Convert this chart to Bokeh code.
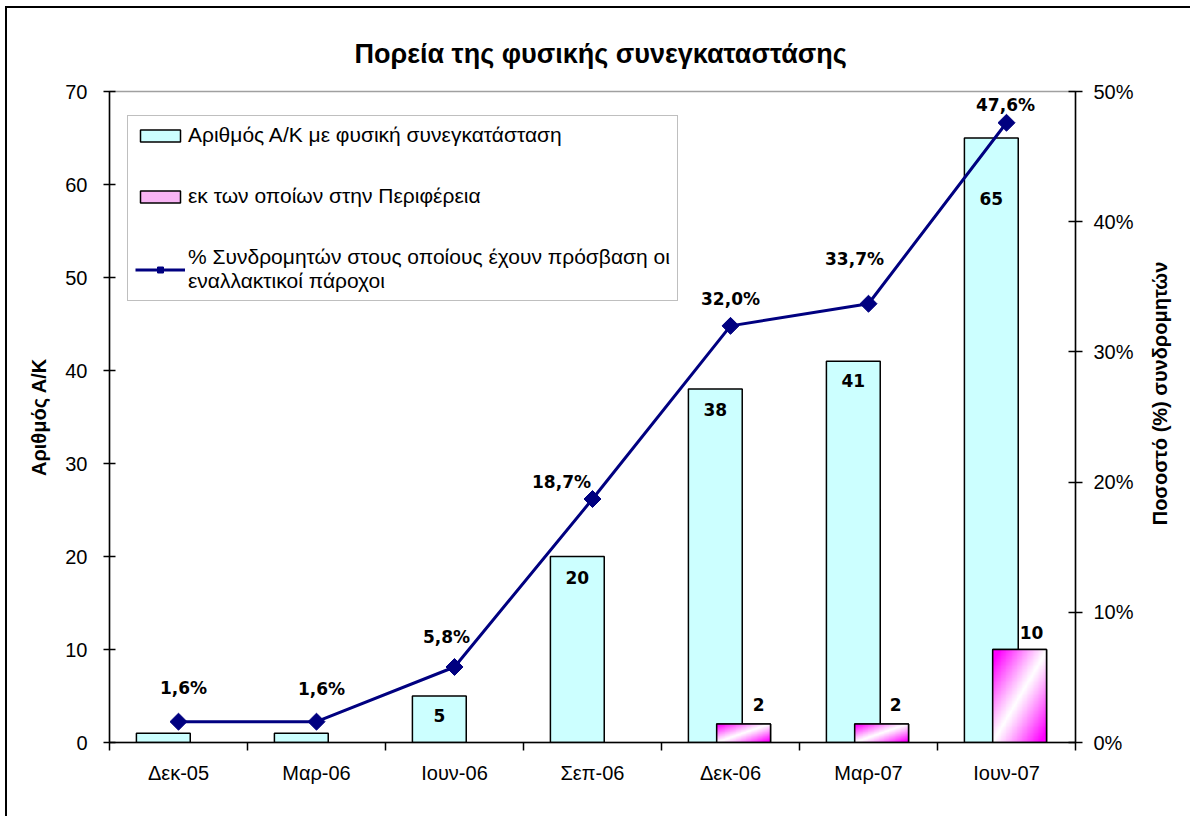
import numpy as np
from bokeh.plotting import figure
from bokeh.models import (Range1d, LinearAxis, FixedTicker, PrintfTickFormatter,
                          Legend, LegendItem, ColumnDataSource, Label)
from bokeh.core.properties import value
from bokeh.embed import file_html
from bokeh.resources import INLINE

# ---------------- data ----------------
categories = ["Δεκ-05", "Μαρ-06", "Ιουν-06", "Σεπ-06", "Δεκ-06", "Μαρ-07", "Ιουν-07"]
total_sites = [1, 1, 5, 20, 38, 41, 65]
regional_sites = [0, 0, 0, 0, 2, 2, 10]
pct_subscribers = [1.6, 1.6, 5.8, 18.7, 32.0, 33.7, 47.6]
left_ticks = [0, 10, 20, 30, 40, 50, 60, 70]
right_ticks = [0, 10, 20, 30, 40, 50]
series_names = ["Αριθμός Α/Κ με φυσική συνεγκατάσταση",
                "εκ των οποίων στην Περιφέρεια",
                "% Συνδρομητών στους οποίους έχουν πρόσβαση οι\nεναλλακτικοί πάροχοι"]
title_text = "Πορεία της φυσικής συνεγκαταστάσης"
y_label_left = "Αριθμός Α/Κ"
y_label_right = "Ποσοστό (%) συνδρομητών"

# label placement (pixel offsets, styling only)
bar_label_dy = [None, None, 19, 21, 20, 19, 60]
pink_label_dx = [None, None, None, None, 15, 14, 12]
pink_label_dy = [None, None, None, None, -19, -19, -17]
pct_label_dx = [5, 5, -8, -31, 0, -14, -1]
pct_label_dy = [-34, -33, -30, -17, -27, -45, -18]

# ---------------- styles ----------------
CYAN = "#ccffff"
NAVY = "#000080"
PINK_LEG = "#f8b4f4"
CYAN_OFF, PINK_OFF, BAR_W = -0.11, 0.095, 0.39
SANS = "Liberation Sans"
BOLD_LBL = "DejaVu Sans"

idx = list(range(len(categories)))

W, H = 1185, 810
p = figure(width=W, height=H, output_backend="svg", toolbar_location=None,
           x_range=Range1d(-0.5, len(categories) - 0.5), y_range=Range1d(0, 70),
           x_axis_type=None, y_axis_type=None,
           min_border_left=102, min_border_right=117, min_border_top=83, min_border_bottom=76)
p.margin = (8, 0, 0, 7)
p.extra_y_ranges = {"pct": Range1d(0, 50)}
p.outline_line_color = "#a0a0a0"
p.outline_line_width = 1.5
p.background_fill_color = "white"
p.border_fill_color = "white"
p.styles = {"box-shadow": "-2px -2px 0 0 #000000"}

p.title.text = title_text
p.title.text_font = SANS
p.title.text_font_size = "27px"
p.title.text_font_style = "bold"
p.title.text_color = "black"
p.title.align = "left"
p.title.offset = 245
p.title.standoff = 45

def style_axis(ax):
    ax.axis_line_color = "black"
    ax.axis_line_width = 1.5
    ax.major_tick_line_color = "black"
    ax.major_tick_line_width = 1.5
    ax.minor_tick_line_color = "black"
    ax.minor_tick_line_width = 1.5
    ax.major_label_text_font = SANS
    ax.major_label_text_font_size = "20px"
    ax.major_label_text_color = "black"
    ax.axis_label_text_font = SANS
    ax.axis_label_text_font_size = "20px"
    ax.axis_label_text_font_style = "bold"
    ax.axis_label_text_color = "black"

yl = LinearAxis(ticker=FixedTicker(ticks=left_ticks, minor_ticks=[]), axis_label=y_label_left)
style_axis(yl)
yl.major_tick_in = 6
yl.major_tick_out = 6
yl.major_label_standoff = 16
yl.axis_label_standoff = 12
p.add_layout(yl, "left")

yr = LinearAxis(y_range_name="pct", ticker=FixedTicker(ticks=right_ticks, minor_ticks=[]),
                formatter=PrintfTickFormatter(format="%d%%"))
style_axis(yr)
yr.major_tick_in = 7
yr.major_tick_out = 7
yr.major_label_standoff = 11
p.add_layout(yr, "right")

# right-hand axis title, reading bottom-to-top, in the right side panel
p.add_layout(Label(x=23, y=349, x_units="screen", y_units="screen", text=y_label_right,
                   angle=np.pi / 2, text_align="center", text_baseline="middle",
                   text_font=SANS, text_font_size="20px", text_font_style="bold",
                   text_color="black"), "right")

xa = LinearAxis(ticker=FixedTicker(ticks=idx, minor_ticks=[i - 0.5 for i in range(len(categories) + 1)]),
                major_label_overrides={i: c for i, c in enumerate(categories)})
style_axis(xa)
xa.major_tick_line_color = None
xa.major_tick_in = 0
xa.major_tick_out = 0
xa.minor_tick_in = 0
xa.minor_tick_out = 8
xa.major_label_standoff = 11
p.add_layout(xa, "below")

# ---------------- bars ----------------
cyan_x = [i + CYAN_OFF for i in idx]
r_cyan = p.vbar(x=cyan_x, top=total_sites, width=BAR_W, fill_color=CYAN,
                line_color="black", line_width=1.5)

# pink bars: filled bar (legend), gradient image over it, outline on top
n = 64
u = np.linspace(0, 1, n)[None, :]
v = np.linspace(0, 1, n)[:, None]
a = np.clip(np.abs(v - u) ** 1.1 * 1.15, 0, 1)
grad = np.empty((n, n), dtype=np.uint32)
view = grad.view(dtype=np.uint8).reshape((n, n, 4))
view[:, :, 0] = 255
view[:, :, 1] = (255 * (1 - a)).astype(np.uint8)
view[:, :, 2] = 255
view[:, :, 3] = 255

pink_idx = [i for i in idx if regional_sites[i] > 0]
pink_x = [i + PINK_OFF for i in pink_idx]
pink_vals = [regional_sites[i] for i in pink_idx]
r_pink = p.vbar(x=pink_x, top=pink_vals, width=BAR_W, fill_color=PINK_LEG,
                line_color="black", line_width=1.5)
p.image_rgba(image=[grad] * len(pink_idx), x=[c - BAR_W / 2 for c in pink_x],
             y=[0] * len(pink_idx), dw=[BAR_W] * len(pink_idx), dh=pink_vals)
p.vbar(x=pink_x, top=pink_vals, width=BAR_W, fill_alpha=0, line_color="black", line_width=1.5)

# ---------------- line ----------------
r_line = p.line(x=idx, y=pct_subscribers, y_range_name="pct", line_color=NAVY, line_width=3)
r_pts = p.scatter(x=idx, y=pct_subscribers, y_range_name="pct", marker="square",
                  angle=np.pi / 4, size=12, fill_color=NAVY, line_color=NAVY)

# ---------------- data labels ----------------
lab_font = dict(text_font=value(BOLD_LBL), text_font_style="bold", text_font_size="17px",
                text_color="black", text_align="center", text_baseline="middle")

bl = [i for i in idx if bar_label_dy[i] is not None]
p.text(source=ColumnDataSource(dict(
    x=[cyan_x[i] for i in bl], y=[total_sites[i] for i in bl],
    t=[str(total_sites[i]) for i in bl], dy=[bar_label_dy[i] for i in bl])),
    x="x", y="y", text="t", y_offset="dy", **lab_font)

pl = [i for i in idx if pink_label_dy[i] is not None]
p.text(source=ColumnDataSource(dict(
    x=[i + PINK_OFF for i in pl], y=[regional_sites[i] for i in pl],
    t=[str(regional_sites[i]) for i in pl],
    dx=[pink_label_dx[i] for i in pl], dy=[pink_label_dy[i] for i in pl])),
    x="x", y="y", text="t", x_offset="dx", y_offset="dy", **lab_font)

p.text(source=ColumnDataSource(dict(
    x=idx, y=pct_subscribers,
    t=[f"{v:.1f}".replace(".", ",") + "%" for v in pct_subscribers],
    dx=pct_label_dx, dy=pct_label_dy)),
    x="x", y="y", text="t", x_offset="dx", y_offset="dy", y_range_name="pct", **lab_font)

# ---------------- legend ----------------
legend = Legend(items=[
    LegendItem(label=series_names[0], renderers=[r_cyan]),
    LegendItem(label=series_names[1], renderers=[r_pink]),
    LegendItem(label=series_names[2], renderers=[r_line, r_pts]),
], location=(18, 441))
legend.label_text_font = SANS
legend.label_text_font_size = "21px"
legend.label_text_line_height = 1.35
legend.label_text_color = "black"
legend.glyph_width = 50
legend.glyph_height = 15
legend.label_standoff = 3
legend.padding = 7
legend.spacing = 37
legend.label_height = 24
legend.border_line_color = "#808080"
legend.border_line_width = 1.5
legend.background_fill_color = "white"
legend.background_fill_alpha = 1
legend.margin = 0
p.add_layout(legend)

open("out.html", "w").write(file_html(p, INLINE))
